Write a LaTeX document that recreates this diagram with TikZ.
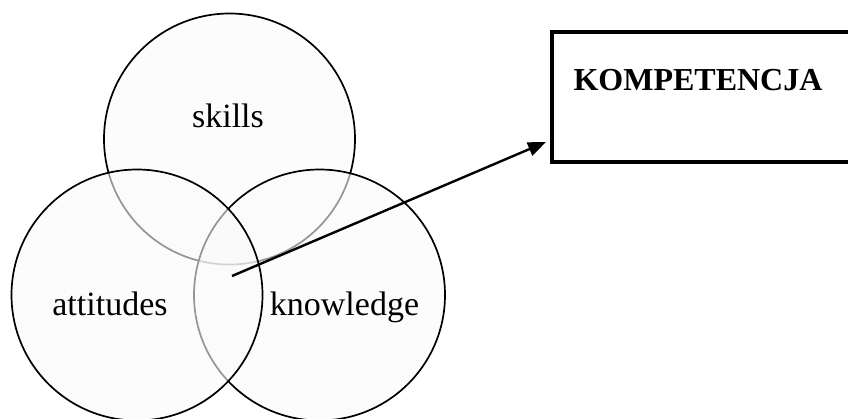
\documentclass[tikz,border=0pt]{standalone}
\usepackage{fontspec}
\setmainfont{Liberation Serif}
\usetikzlibrary{arrows.meta}
\begin{document}
\begin{tikzpicture}[x=1pt, y=-1pt,
  venn/.style={circle, draw, line width=1.7pt, fill=black!2, fill opacity=0.6, minimum size=251pt, inner sep=0pt},
  word/.style={anchor=base, font=\fontsize{34pt}{40pt}\selectfont}]
\useasboundingbox (0,0) rectangle (848,418);

\node[venn] (skills) at (229.5,139) {};
\node[venn] (knowledge) at (319.5,295) {};
\node[venn] (attitudes) at (137,295) {};

\node[word] (skillstext) at (228,127) {skills};
\node[word] (attitudestext) at (110,315) {attitudes};
\node[word] (knowledgetext) at (344.5,315) {knowledge};

\node[draw, line width=4pt, anchor=north west, minimum width=310pt, minimum height=130pt] (komp) at (550,30) {};
\node[anchor=base west, font=\fontsize{32pt}{38pt}\selectfont\bfseries] (komptext) at (570,90) {KOMPETENCJA};

\coordinate (core) at (232,276); % centre of the overlap
\coordinate (tip) at (546,142);
\draw[line width=2.4pt, -{Triangle[length=18pt, width=14pt]}] (core) -- (tip);
\end{tikzpicture}
\end{document}
